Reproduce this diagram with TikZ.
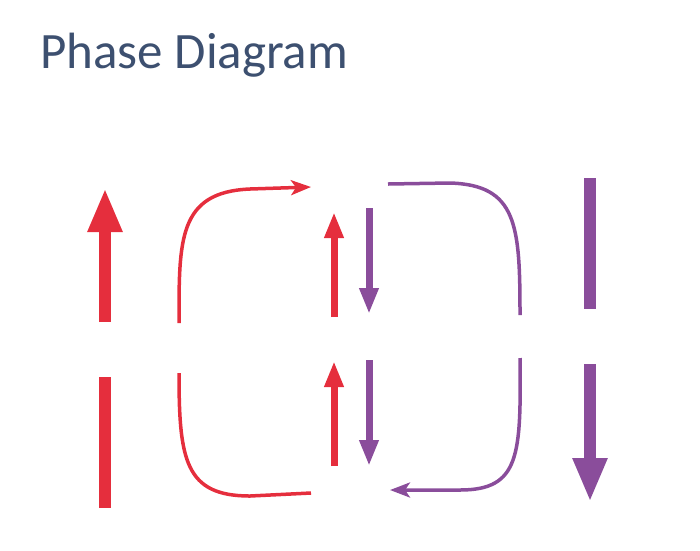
\documentclass[tikz,border=0pt]{standalone}
\usepackage{fontspec}
\setmainfont{Carlito}
\usetikzlibrary{arrows.meta}
\definecolor{rd}{HTML}{E52E3D}
\definecolor{pu}{HTML}{8A4D9B}
\definecolor{ttl}{HTML}{3D5070}
\begin{document}
\begin{tikzpicture}[x=1pt,y=-1pt,
  bigarrow/.style={line width=12.5pt,-{Triangle[length=44pt,width=32pt]}},
  bigbar/.style={line width=12.5pt},
  smallarrow/.style={line width=7pt,-{Triangle[length=26pt,width=18pt]}},
  curvearrow/.style={line width=3.5pt,-{Stealth[length=20pt,width=15pt,inset=5pt]}},
  curveline/.style={line width=3.5pt}]
\useasboundingbox (0,0) rectangle (700,550);
\node[anchor=base west,text=ttl,font=\fontsize{51}{58}\selectfont,inner sep=0pt] (title) at (40,68) {Phase Diagram};
% coordinates
\coordinate (a1s) at (105,322); \coordinate (a1e) at (105,188);
\coordinate (b1s) at (105,377); \coordinate (b1e) at (105,508);
\coordinate (c1s) at (179,323); \coordinate (c1e) at (311,187);
\coordinate (c2s) at (179,373); \coordinate (c2e) at (311,493);
\coordinate (r1s) at (334,317); \coordinate (r1e) at (334,212);
\coordinate (r2s) at (334,466); \coordinate (r2e) at (334,361);
\coordinate (p1s) at (369,208); \coordinate (p1e) at (369,314);
\coordinate (p2s) at (369,360); \coordinate (p2e) at (369,466);
\coordinate (d1s) at (388,184); \coordinate (d1e) at (520,315);
\coordinate (d2s) at (520,358); \coordinate (d2e) at (390,490);
\coordinate (e1s) at (590,178); \coordinate (e1e) at (590,309);
\coordinate (e2s) at (590,364); \coordinate (e2e) at (590,502);
% red
\draw[rd,bigarrow] (a1s) -- (a1e);
\draw[rd,bigbar] (b1s) -- (b1e);
\draw[rd,curvearrow] (c1s) .. controls (179,240) and (178,192) .. (250,189) -- (c1e);
\draw[rd,curveline] (c2s) .. controls (179,460) and (185,496) .. (250,496) -- (c2e);
\draw[rd,smallarrow] (r1s) -- (r1e);
\draw[rd,smallarrow] (r2s) -- (r2e);
% purple
\draw[pu,smallarrow] (p1s) -- (p1e);
\draw[pu,smallarrow] (p2s) -- (p2e);
\draw[pu,curveline] (d1s) -- (450,183) .. controls (517,185) and (520,225) .. (d1e);
\draw[pu,curvearrow] (d2s) .. controls (521,455) and (520,490) .. (460,490) -- (d2e);
\draw[pu,bigbar] (e1s) -- (e1e);
\draw[pu,bigarrow] (e2s) -- (e2e);
\end{tikzpicture}
\end{document}
